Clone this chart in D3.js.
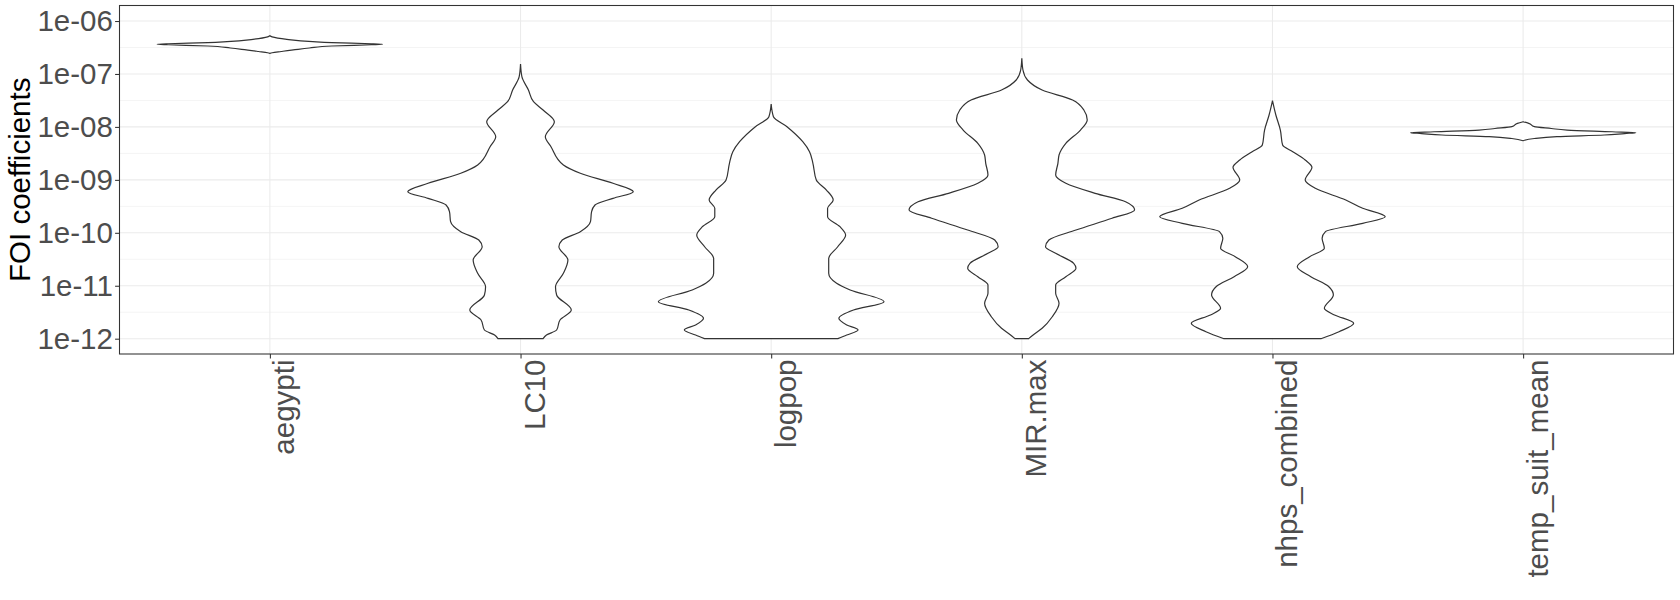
<!DOCTYPE html>
<html>
<head>
<meta charset="utf-8">
<script src="https://cdn.jsdelivr.net/npm/d3@7"></script>
<style>
  body { margin: 0; background: #fff; }
  svg { display: block; font-family: "Liberation Sans", Arial, sans-serif; }
</style>
</head>
<body>
<div id="chart"></div>
<script>
// *************************************
// DATA (exponents of 10 and relative violin width)
// *************************************
const categories = ["aegypti", "LC10", "logpop", "MIR.max", "nhps_combined", "temp_suit_mean"];

const yTickExps = [-12, -11, -10, -9, -8, -7, -6];
const yTickLabels = ["1e-12", "1e-11", "1e-10", "1e-09", "1e-08", "1e-07", "1e-06"];
const yMinorExps = [-11.5, -10.5, -9.5, -8.5, -7.5, -6.5];

const aegyptiExp  = [-6.278, -6.300, -6.346, -6.391, -6.410, -6.429, -6.440, -6.448, -6.472, -6.510, -6.534, -6.576, -6.600, -6.610];
const aegyptiDens = [0, 0.02, 0.15, 0.38, 0.55, 0.9, 1.0, 0.9, 0.55, 0.35, 0.25, 0.1, 0.02, 0];

const lc10Exp  = [-6.812, -7.052, -7.303, -7.524, -7.681, -7.902, -8.185, -8.374, -8.720, -8.876, -9.065, -9.224, -9.349, -9.475,
                  -9.602, -9.790, -9.979, -10.136, -10.263, -10.514, -10.765, -11.018, -11.175, -11.458, -11.647, -11.836, -11.931, -12.0];
const lc10Dens = [0, 0.012, 0.07, 0.115, 0.2, 0.30, 0.22, 0.27, 0.38, 0.53, 0.82, 1.0, 0.82, 0.66,
                  0.63, 0.62, 0.53, 0.37, 0.34, 0.42, 0.38, 0.31, 0.32, 0.45, 0.35, 0.32, 0.23, 0.2];

const logpopExp  = [-7.568, -7.807, -7.996, -8.280, -8.468, -8.687, -9.003, -9.192, -9.380, -9.537, -9.696, -9.885, -10.042,
                    -10.263, -10.482, -10.765, -10.954, -11.080, -11.301, -11.458, -11.615, -11.741, -11.836, -11.931, -12.0];
const logpopDens = [0, 0.02, 0.14, 0.28, 0.34, 0.37, 0.40, 0.49, 0.55, 0.50, 0.50, 0.61, 0.66,
                    0.59, 0.51, 0.51, 0.58, 0.70, 1.0, 0.73, 0.60, 0.67, 0.77, 0.67, 0.59];

const mirExp  = [-6.704, -6.925, -7.114, -7.303, -7.492, -7.681, -7.870, -8.059, -8.310, -8.531, -8.687, -8.908, -9.065, -9.254,
                 -9.413, -9.569, -9.726, -9.947, -10.136, -10.263, -10.387, -10.576, -10.670, -10.829, -10.986, -11.143,
                 -11.331, -11.585, -11.804, -11.930, -12.0];
const mirDens = [0, 0.01, 0.05, 0.18, 0.45, 0.55, 0.58, 0.52, 0.39, 0.33, 0.32, 0.30, 0.39, 0.65,
                 0.92, 1.0, 0.80, 0.48, 0.24, 0.21, 0.30, 0.46, 0.48, 0.39, 0.30, 0.30,
                 0.33, 0.27, 0.18, 0.10, 0.06];

const nhpsExp  = [-7.505, -7.775, -8.059, -8.342, -8.468, -8.625, -8.763, -9.003, -9.160, -9.380, -9.537, -9.696, -9.821,
                  -9.979, -10.104, -10.293, -10.451, -10.640, -10.829, -11.018, -11.175, -11.426, -11.552, -11.709, -11.868, -12.0];
const nhpsDens = [0, 0.03, 0.07, 0.09, 0.18, 0.29, 0.35, 0.29, 0.38, 0.65, 0.80, 1.0, 0.80,
                  0.47, 0.44, 0.46, 0.33, 0.22, 0.34, 0.50, 0.54, 0.46, 0.55, 0.72, 0.59, 0.43];

const tempExp  = [-7.902, -7.932, -7.996, -8.030, -8.059, -8.091, -8.110, -8.125, -8.153, -8.185, -8.219, -8.261];
const tempDens = [0, 0.05, 0.10, 0.25, 0.39, 0.79, 1.0, 0.9, 0.72, 0.30, 0.1, 0];

let toPoints = (exps, dens) => exps.map((e, i) => ({ e: e, w: dens[i] }));

const violins = [
  { name: "aegypti", points: toPoints(aegyptiExp, aegyptiDens) },
  { name: "LC10", points: toPoints(lc10Exp, lc10Dens) },
  { name: "logpop", points: toPoints(logpopExp, logpopDens) },
  { name: "MIR.max", points: toPoints(mirExp, mirDens) },
  { name: "nhps_combined", points: toPoints(nhpsExp, nhpsDens) },
  { name: "temp_suit_mean", points: toPoints(tempExp, tempDens) }
];

// *************************************
// LAYOUT AND SCALES
// *************************************
const width = 1680, height = 600;
const panel = { left: 119.5, right: 1673.5, top: 5.5, bottom: 354 };
const fontSize = "29.5px";

const svg = d3.select("#chart").append("svg")
  .attr("width", width)
  .attr("height", height);

const x = d3.scalePoint()
  .domain(categories)
  .range([panel.left, panel.right])
  .padding(0.6);

const y = d3.scaleLog()
  .domain([Math.pow(10, -12.289), Math.pow(10, -5.707)])
  .range([panel.bottom, panel.top]);

const halfWidth = d3.scaleLinear().domain([0, 1]).range([0, x.step() * 0.45]);

// *************************************
// GRID
// *************************************
const grid = svg.append("g");

grid.selectAll("line.minor")
  .data(yMinorExps)
  .enter().append("line")
  .attr("x1", panel.left).attr("x2", panel.right)
  .attr("y1", (d) => y(Math.pow(10, d))).attr("y2", (d) => y(Math.pow(10, d)))
  .style("stroke", "#EBEBEB").style("stroke-width", 0.55);

grid.selectAll("line.major")
  .data(yTickExps)
  .enter().append("line")
  .attr("x1", panel.left).attr("x2", panel.right)
  .attr("y1", (d) => y(Math.pow(10, d))).attr("y2", (d) => y(Math.pow(10, d)))
  .style("stroke", "#EBEBEB").style("stroke-width", 1.07);

grid.selectAll("line.vert")
  .data(categories)
  .enter().append("line")
  .attr("x1", (d) => x(d)).attr("x2", (d) => x(d))
  .attr("y1", panel.top).attr("y2", panel.bottom)
  .style("stroke", "#EBEBEB").style("stroke-width", 1.07);

// *************************************
// VIOLINS
// *************************************
violins.forEach((v) => {
  let cx = x(v.name);
  let area = d3.area()
    .curve(d3.curveMonotoneY)
    .y((d) => y(Math.pow(10, d.e)))
    .x0((d) => cx - halfWidth(d.w))
    .x1((d) => cx + halfWidth(d.w));

  svg.append("path")
    .datum(v.points)
    .attr("d", area)
    .style("fill", "#fff")
    .style("stroke", "#333333")
    .style("stroke-width", 1.2);
});

// panel border
svg.append("rect")
  .attr("x", panel.left).attr("y", panel.top)
  .attr("width", panel.right - panel.left)
  .attr("height", panel.bottom - panel.top)
  .style("fill", "none")
  .style("stroke", "#333333")
  .style("stroke-width", 1.07);

// *************************************
// AXES
// *************************************
const yAxis = svg.append("g")
  .attr("transform", `translate(${panel.left}, 0)`)
  .call(d3.axisLeft(y)
    .tickValues(yTickExps.map((e) => Math.pow(10, e)))
    .tickFormat((d, i) => yTickLabels[i])
    .tickSize(4.4)
    .tickPadding(2.2));

const xAxis = svg.append("g")
  .attr("transform", `translate(0, ${panel.bottom})`)
  .call(d3.axisBottom(x).tickSize(4.4));

[yAxis, xAxis].forEach((axis) => {
  axis.select(".domain").remove();
  axis.selectAll(".tick line").style("stroke", "#333333").style("stroke-width", 1.07);
  axis.selectAll(".tick text")
    .style("font-size", fontSize)
    .style("font-family", "'Liberation Sans', Arial, sans-serif")
    .style("fill", "#4D4D4D");
});

xAxis.selectAll(".tick text")
  .attr("x", 0).attr("y", 0).attr("dy", null)
  .attr("text-anchor", "end")
  .attr("transform", "translate(24, 5.5) rotate(-90)");

// y axis title
svg.append("text")
  .attr("transform", `translate(30, ${(panel.top + panel.bottom) / 2}) rotate(-90)`)
  .attr("text-anchor", "middle")
  .style("font-size", fontSize)
  .style("fill", "#000")
  .text("FOI coefficients");
</script>
</body>
</html>
